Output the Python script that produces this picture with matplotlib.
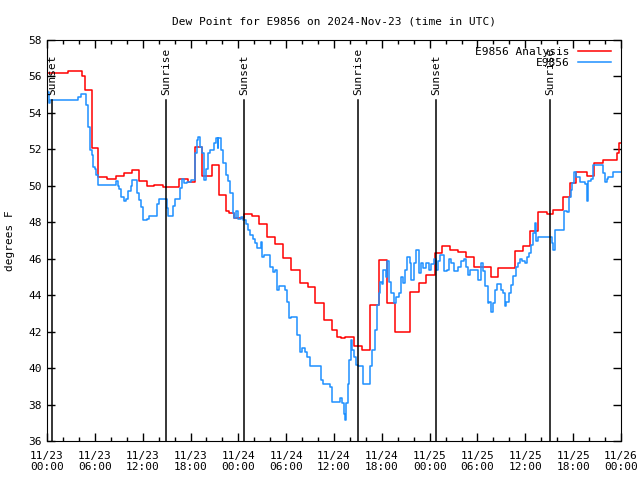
import matplotlib
matplotlib.use("Agg")
import matplotlib.pyplot as plt

# hours since 11/23 00:00 UTC
analysis_hours = [0.0, 2.6, 4.4, 4.8, 5.6, 6.4, 7.5, 8.6, 9.6, 10.7, 11.5, 12.5, 13.4, 14.6, 16.5, 17.7, 18.6,
                  19.5, 20.7, 21.6, 22.5, 22.8, 23.5, 24.75, 25.7, 26.6, 27.6, 28.6, 29.6, 30.6, 31.7, 32.8,
                  33.6, 34.7, 35.7, 36.4, 36.9, 37.4, 38.5, 39.5, 40.5, 41.6, 42.7, 43.6, 45.5, 46.6, 47.5,
                  48.7, 49.6, 50.6, 51.6, 52.6, 53.6, 55.7, 56.6, 58.7, 59.7, 60.6, 61.6, 62.7, 63.5, 64.7,
                  65.6, 66.4, 67.7, 68.6, 69.8, 71.5, 71.8, 72.0]
analysis_vals = [56.2, 56.3, 56.0, 55.25, 52.05, 50.5, 50.35, 50.55, 50.7, 50.85, 50.25, 50.0, 50.05, 49.95,
                 50.35, 50.2, 52.15, 50.55, 51.15, 49.5, 48.6, 48.5, 48.25, 48.45, 48.35, 47.9, 47.2, 46.8,
                 46.05, 45.4, 44.65, 44.45, 43.55, 42.65, 42.1, 41.7, 41.65, 41.7, 41.2, 41.0, 43.45, 45.95,
                 43.55, 42.0, 44.15, 44.65, 45.1, 46.3, 46.7, 46.5, 46.35, 46.1, 45.55, 45.0, 45.5, 46.45,
                 46.7, 47.5, 48.55, 48.45, 48.65, 49.4, 50.15, 50.75, 50.55, 51.25, 51.4, 51.8, 52.35, 52.35]

station_hours = [0.0, 0.2, 0.4, 0.65, 3.9, 4.3, 4.9, 5.2, 5.35, 5.45, 5.6, 5.8, 6.0, 6.2, 6.4, 8.7, 8.85,
                 9.0, 9.3, 9.6, 9.9, 10.2, 10.5, 10.7, 11.3, 11.5, 11.8, 12.1, 12.5, 12.8, 13.0, 13.8, 14.0,
                 15.0, 15.2, 15.3, 15.8, 16.0, 16.7, 16.9, 17.2, 17.6, 18.0, 18.6, 18.8, 18.9, 19.2, 19.4,
                 19.7, 19.9, 20.0, 20.2, 20.4, 21.0, 21.2, 21.4, 21.5, 21.8, 22.1, 22.4, 22.7, 23.0, 23.3,
                 23.5, 23.7, 24.0, 24.3, 24.6, 24.9, 25.2, 25.5, 25.8, 26.1, 26.4, 26.8, 27.0, 27.2, 28.0,
                 28.3, 28.6, 28.9, 29.1, 29.8, 30.1, 30.4, 30.6, 31.4, 31.7, 32.0, 32.4, 32.6, 33.0, 34.4,
                 34.6, 35.5, 35.7, 36.8, 37.0, 37.2, 37.35, 37.5, 37.7, 37.9, 38.1, 38.3, 38.5, 38.7, 39.0,
                 39.6, 39.9, 40.5, 40.8, 41.1, 41.4, 41.6, 41.8, 42.0, 42.2, 42.5, 42.7, 42.9, 43.2, 43.5,
                 43.8, 44.1, 44.4, 44.6, 44.9, 45.2, 45.5, 45.7, 46.0, 46.3, 46.6, 46.9, 47.2, 47.5, 47.9,
                 48.2, 48.5, 48.8, 49.0, 49.3, 49.8, 50.2, 50.4, 50.7, 51.1, 51.5, 51.9, 52.3, 52.6, 52.8,
                 53.1, 54.1, 54.4, 54.7, 55.0, 55.3, 55.5, 55.7, 56.0, 56.2, 56.5, 56.9, 57.2, 57.4, 57.6,
                 57.9, 58.2, 58.5, 58.8, 59.1, 59.3, 59.6, 59.9, 60.2, 60.4, 60.7, 61.0, 61.2, 61.4, 61.6,
                 61.9, 63.3, 63.5, 63.7, 64.9, 65.2, 65.5, 65.7, 65.9, 66.1, 66.4, 66.8, 67.5, 67.7, 67.9,
                 68.2, 68.5, 69.4, 69.7, 70.0, 70.2, 70.4, 71.0, 72.0]
station_vals = [55.15, 54.55, 54.7, 54.7, 54.9, 55.05, 54.45, 53.25, 52.5, 51.95, 51.7, 51.05, 50.9, 50.6,
                50.05, 50.25, 50.0, 49.85, 49.4, 49.15, 49.3, 49.7, 50.0, 50.3, 49.6, 49.2, 48.85, 48.1,
                48.2, 48.35, 48.35, 49.0, 49.3, 48.8, 48.35, 48.35, 48.9, 49.3, 49.9, 50.35, 50.15, 50.2,
                50.3, 51.8, 52.5, 52.7, 52.15, 51.8, 50.3, 50.6, 50.9, 51.8, 51.95, 52.35, 52.6, 52.1,
                52.6, 51.95, 51.25, 50.6, 50.25, 49.6, 48.5, 48.25, 48.6, 48.2, 48.3, 48.1, 47.9, 47.6,
                47.3, 47.1, 46.85, 46.6, 46.9, 46.1, 46.2, 45.55, 45.25, 45.4, 44.3, 44.5, 44.3, 43.65,
                42.75, 42.8, 41.8, 40.9, 41.1, 40.9, 40.6, 40.1, 39.35, 39.15, 38.95, 38.15, 38.35, 38.1,
                37.5, 37.15, 38.1, 39.15, 40.45, 41.55, 41.0, 40.6, 40.15, 40.1, 39.15, 39.1, 40.1, 41.0,
                42.1, 43.45, 44.1, 44.75, 44.6, 45.4, 45.0, 45.85, 44.75, 44.1, 43.55, 43.9, 44.1, 45.0,
                44.65, 45.4, 46.1, 45.75, 44.85, 45.75, 46.5, 45.2, 45.75, 45.5, 45.75, 45.4, 45.7, 46.0,
                45.4, 45.9, 46.2, 45.3, 45.4, 46.0, 45.75, 45.3, 45.55, 45.85, 46.0, 45.55, 45.1, 45.4,
                44.85, 45.75, 45.3, 44.5, 43.55, 43.65, 43.1, 43.55, 44.3, 44.6, 44.3, 44.1, 43.4, 43.65,
                44.1, 44.55, 45.05, 45.55, 45.75, 46.0, 45.85, 45.75, 46.1, 46.3, 46.75, 47.4, 47.95, 46.95,
                47.2, 47.2, 46.85, 46.5, 47.55, 48.6, 48.55, 49.4, 49.75, 50.15, 50.75, 50.5, 50.2, 50.1,
                49.15, 50.25, 50.4, 51.15, 51.15, 50.7, 50.2, 50.35, 50.5, 50.75, 50.75]

sun_hours = [0.6, 14.9, 24.75, 39.0, 48.8, 63.1]
sun_labels = ["Sunset", "Sunrise", "Sunset", "Sunrise", "Sunset", "Sunrise"]

tick_hours = list(range(0, 73, 6))
tick_labels = ["11/23\n00:00", "11/23\n06:00", "11/23\n12:00", "11/23\n18:00",
               "11/24\n00:00", "11/24\n06:00", "11/24\n12:00", "11/24\n18:00",
               "11/25\n00:00", "11/25\n06:00", "11/25\n12:00", "11/25\n18:00",
               "11/26\n00:00"]

plt.rcParams["font.family"] = "DejaVu Sans Mono"
plt.rcParams["font.size"] = 8

fig = plt.figure(figsize=(6.4, 4.8), dpi=100)
ax = fig.add_axes([47 / 640, 39 / 480, 574 / 640, 401 / 480])

ax.plot(analysis_hours, analysis_vals, drawstyle="steps-post", color="#ff0000",
        lw=1.1, label="E9856 Analysis")
ax.plot(station_hours, station_vals, drawstyle="steps-post", color="#1e90ff",
        lw=1.1, label="E9856")

for h, lab in zip(sun_hours, sun_labels):
    ax.plot([h, h], [36, 54.7], color="black", lw=1.1)
    ax.text(h, 55.0, lab, rotation=90, ha="center", va="bottom", fontsize=8)

ax.set_xlim(0, 72)
ax.set_ylim(36, 58)
ax.set_xticks(tick_hours)
ax.set_xticklabels(tick_labels)
ax.set_xticks(range(0, 73, 2), minor=True)
ax.set_yticks(range(36, 59, 2))
ax.tick_params(axis="both", which="both", direction="in", top=True, right=True)
ax.tick_params(axis="both", which="major", length=6, width=1)
ax.tick_params(axis="both", which="minor", length=3, width=1)
ax.tick_params(axis="x", pad=7)

ax.set_title("Dew Point for E9856 on 2024-Nov-23 (time in UTC)", fontsize=8, pad=11)
ax.set_ylabel("degrees F", labelpad=10)

leg = ax.legend(loc="upper right", frameon=False, markerfirst=False,
                handlelength=3.0, borderaxespad=0.2, labelspacing=0.1,
                bbox_to_anchor=(0.995, 1.0))
for t in leg.get_texts():
    t.set_ha("right")

fig.savefig("out.png", dpi=100)
